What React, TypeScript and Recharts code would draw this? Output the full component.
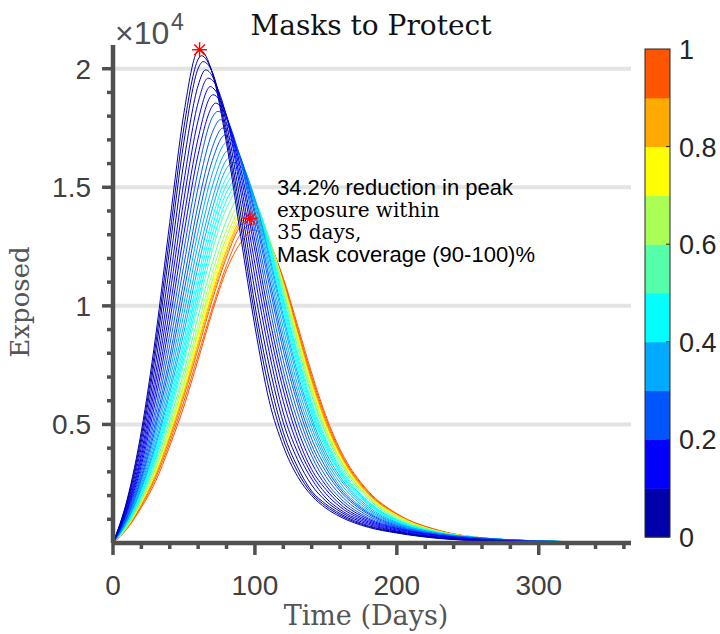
import React from "react";
import {
  CartesianGrid,
  ComposedChart,
  Line,
  ReferenceDot,
  XAxis,
  YAxis,
} from "recharts";

// sample days shared by every curve
const days = [0, 10, 20, 30, 40, 50, 60, 70, 80, 90, 100, 110, 120, 130, 140, 150, 160, 180, 200, 230, 260, 300, 365];

// mask coverage of each curve
const coverage = [
  0, 0.025, 0.05, 0.075, 0.1, 0.125, 0.15, 0.175, 0.2, 0.225, 0.25, 0.275, 0.3, 0.325, 0.35, 0.375, 0.4, 0.425, 0.45, 0.475, 0.5,
  0.55, 0.6, 0.65, 0.7, 0.75, 0.8, 0.85, 0.9, 0.95, 1,
];

// exposed population
const e000 = [0, 1840, 4720, 8700, 13520, 18140, 20780, 19820, 16850, 12920, 9130, 6010, 4080, 2810, 2000, 1470, 1110, 660, 420, 190, 85, 26, 4];
const e025 = [0, 1775, 4510, 8350, 12970, 17535, 20395, 19835, 17115, 13375, 9580, 6485, 4375, 3010, 2095, 1555, 1175, 695, 443, 203, 95, 32, 6];
const e050 = [0, 1710, 4300, 8000, 12420, 16930, 20010, 19850, 17380, 13830, 10030, 6960, 4670, 3210, 2190, 1640, 1240, 730, 465, 215, 105, 37, 8];
const e075 = [0, 1620, 4060, 7565, 11735, 16090, 19295, 19685, 17675, 14315, 10630, 7510, 5080, 3520, 2445, 1770, 1325, 785, 488, 235, 115, 40, 9];
const e100 = [0, 1530, 3820, 7130, 11050, 15250, 18580, 19520, 17970, 14800, 11230, 8060, 5490, 3830, 2700, 1900, 1410, 840, 510, 255, 125, 43, 10];
const e125 = [0, 1465, 3640, 6750, 10460, 14495, 17825, 19208, 17995, 15160, 11775, 8570, 5970, 4155, 2900, 2080, 1525, 893, 548, 280, 138, 51, 11];
const e150 = [0, 1400, 3460, 6370, 9870, 13740, 17070, 18895, 18020, 15520, 12320, 9080, 6450, 4480, 3100, 2260, 1640, 945, 585, 305, 150, 58, 12];
const e175 = [0, 1325, 3285, 6015, 9350, 13060, 16385, 18423, 17955, 15805, 12730, 9560, 6865, 4825, 3380, 2430, 1770, 1003, 618, 320, 155, 62, 13];
const e200 = [0, 1250, 3110, 5660, 8830, 12380, 15700, 17950, 17890, 16090, 13140, 10040, 7280, 5170, 3660, 2600, 1900, 1060, 650, 335, 160, 65, 14];
const e225 = [0, 1195, 2965, 5375, 8355, 11740, 14990, 17315, 17670, 16165, 13465, 10470, 7700, 5525, 3895, 2805, 2045, 1135, 675, 343, 175, 73, 17];
const e250 = [0, 1140, 2820, 5090, 7880, 11100, 14280, 16680, 17450, 16240, 13790, 10900, 8120, 5880, 4130, 3010, 2190, 1210, 700, 350, 190, 80, 19];
const e275 = [0, 1085, 2705, 4875, 7525, 10610, 13705, 16130, 17173, 16230, 13995, 11195, 8430, 6140, 4390, 3180, 2295, 1265, 740, 365, 198, 83, 20];
const e300 = [0, 1030, 2590, 4660, 7170, 10120, 13130, 15580, 16895, 16220, 14200, 11490, 8740, 6400, 4650, 3350, 2400, 1320, 780, 380, 205, 85, 20];
const e325 = [0, 995, 2485, 4450, 6860, 9680, 12605, 15045, 16528, 16130, 14350, 11745, 9055, 6680, 4870, 3500, 2545, 1390, 805, 390, 208, 85, 22];
const e350 = [0, 960, 2380, 4240, 6550, 9240, 12080, 14510, 16160, 16040, 14500, 12000, 9370, 6960, 5090, 3650, 2690, 1460, 830, 400, 210, 85, 23];
const e375 = [0, 920, 2300, 4085, 6315, 8895, 11665, 14095, 15795, 15875, 14495, 12160, 9590, 7170, 5265, 3815, 2800, 1535, 865, 408, 208, 84, 23];
const e400 = [0, 880, 2220, 3930, 6080, 8550, 11250, 13680, 15430, 15710, 14490, 12320, 9810, 7380, 5440, 3980, 2910, 1610, 900, 415, 205, 82, 23];
const e425 = [0, 860, 2150, 3820, 5910, 8300, 10930, 13345, 15110, 15545, 14480, 12430, 9965, 7560, 5570, 4085, 2980, 1650, 925, 418, 208, 86, 23];
const e450 = [0, 840, 2080, 3710, 5740, 8050, 10610, 13010, 14790, 15380, 14470, 12540, 10120, 7740, 5700, 4190, 3050, 1690, 950, 420, 210, 90, 22];
const e475 = [0, 815, 2025, 3595, 5565, 7820, 10300, 12670, 14455, 15190, 14450, 12630, 10265, 7905, 5850, 4300, 3145, 1725, 970, 430, 213, 90, 21];
const e500 = [0, 790, 1970, 3480, 5390, 7590, 9990, 12330, 14120, 15000, 14430, 12720, 10410, 8070, 6000, 4410, 3240, 1760, 990, 440, 215, 90, 20];
const e550 = [0, 750, 1900, 3340, 5160, 7230, 9560, 11820, 13610, 14680, 14350, 12830, 10600, 8290, 6220, 4590, 3370, 1850, 1030, 460, 215, 87, 18];
const e600 = [0, 720, 1820, 3190, 4960, 6980, 9200, 11400, 13210, 14390, 14200, 12850, 10740, 8480, 6360, 4710, 3480, 1910, 1080, 470, 210, 87, 16];
const e650 = [0, 710, 1770, 3110, 4800, 6750, 8930, 11090, 12900, 14130, 14080, 12810, 10830, 8610, 6500, 4790, 3540, 1950, 1130, 480, 215, 88, 17];
const e700 = [0, 690, 1730, 3030, 4700, 6610, 8730, 10870, 12680, 13940, 13960, 12790, 10870, 8690, 6610, 4870, 3610, 1970, 1140, 480, 215, 85, 15];
const e750 = [0, 680, 1690, 2960, 4630, 6490, 8580, 10680, 12480, 13790, 13870, 12780, 10920, 8770, 6700, 4960, 3660, 2010, 1160, 480, 220, 85, 13];
const e800 = [0, 680, 1670, 2930, 4540, 6390, 8450, 10530, 12340, 13640, 13800, 12760, 10960, 8830, 6760, 5010, 3710, 2030, 1170, 480, 220, 82, 12];
const e850 = [0, 660, 1650, 2880, 4480, 6280, 8310, 10380, 12180, 13520, 13710, 12730, 10980, 8890, 6820, 5070, 3750, 2070, 1190, 480, 220, 80, 10];
const e900 = [0, 660, 1630, 2850, 4410, 6200, 8200, 10250, 12050, 13390, 13640, 12750, 11050, 8950, 6900, 5130, 3790, 2090, 1200, 490, 220, 80, 9];
const e950 = [0, 620, 1570, 2740, 4250, 5980, 7920, 9910, 11710, 13050, 13420, 12680, 11100, 9050, 7020, 5250, 3860, 2140, 1210, 510, 215, 80, 6];
const e1000 = [0, 610, 1500, 2600, 4090, 5770, 7730, 9750, 11510, 12670, 13195, 12650, 11170, 9190, 7170, 5360, 3950, 2180, 1240, 530, 210, 66, 7];

const curves = [
  e000, e025, e050, e075, e100, e125, e150, e175, e200, e225, e250, e275, e300, e325, e350, e375, e400, e425, e450, e475, e500,
  e550, e600, e650, e700, e750, e800, e850, e900, e950, e1000,
];

// peak of each curve
const peakDays = [
  61, 62.25, 63.5, 65.25, 67, 68.75, 70.5, 72.25, 74, 75.75, 77.5, 79, 80.5, 82, 83.5, 84.75, 86, 87, 88, 89, 90,
  91.5, 92.8, 93.8, 94.5, 95.1, 95.6, 96.1, 96.6, 97.7, 99,
];
const peakValues = [
  20800, 20550, 20300, 19950, 19600, 19250, 18900, 18550, 18200, 17850, 17500, 17200, 16900, 16600, 16300, 16050, 15800, 15600, 15400, 15200, 15000,
  14700, 14450, 14250, 14100, 13980, 13880, 13780, 13690, 13450, 13200,
];

// red stars
const starDays = [61, 96.6];
const starValues = [20800, 13690];

const xTicks = [0, 20, 40, 60, 80, 100, 120, 140, 160, 180, 200, 220, 240, 260, 280, 300, 320, 340, 360];
const yTicks = [1000, 2000, 3000, 4000, 5000, 6000, 7000, 8000, 9000, 10000, 11000, 12000, 13000, 14000, 15000, 16000, 17000, 18000, 19000, 20000];
const gridValues = [5000, 10000, 15000, 20000];
const yLabels: Record<number, string> = { 5000: "0.5", 10000: "1", 15000: "1.5", 20000: "2" };

const jet = ["#0000AA", "#0000FF", "#0055FF", "#00AAFF", "#00FFFF", "#55FFAA", "#AAFF55", "#FFFF00", "#FFAA00", "#FF5500"];
const colorbarTicks = [0, 0.2, 0.4, 0.6, 0.8, 1];

const sans = "'Liberation Sans', Arial, Helvetica, sans-serif";
const serif = "'DejaVu Serif', serif";
const axisGray = "#505050";

const allDays = Array.from(new Set([...days, ...peakDays])).sort((a, b) => a - b);
const data = allDays.map((d) => {
  const row: any = { day: d };
  curves.forEach((vals, i) => {
    const k = days.indexOf(d);
    if (k >= 0) row[`c${i}`] = vals[k];
    if (peakDays[i] === d) row[`c${i}`] = peakValues[i];
  });
  return row;
});

const colorFor = (c: number) => jet[Math.min(9, Math.floor(c * 10 + 1e-9))];

// draw high coverage first so the blue curves end up on top
const drawOrder = curves.map((_, i) => i).reverse();

const XTick = ({ x, y, payload }: any) => {
  const major = payload.value % 100 === 0;
  return (
    <g>
      <line x1={x} y1={y} x2={x} y2={y + (major ? 12 : 6)} stroke={axisGray} strokeWidth={3.5} />
      {major && (
        <text x={x} y={y + 52} textAnchor="middle" fontSize={28} fill="#404040" fontFamily={sans}>
          {payload.value}
        </text>
      )}
    </g>
  );
};

const YTick = ({ x, y, payload }: any) => {
  const major = payload.value % 5000 === 0;
  return (
    <g>
      <line x1={x - (major ? 11 : 6)} y1={y} x2={x} y2={y} stroke={axisGray} strokeWidth={3.5} />
      {major && (
        <text x={x - 22} y={y + 10} textAnchor="end" fontSize={28} fill="#404040" fontFamily={sans}>
          {yLabels[payload.value]}
        </text>
      )}
    </g>
  );
};

const Asterisk = ({ cx, cy }: any) => {
  const r = 7.5;
  const d = r * 0.71;
  return (
    <g stroke="#FF0000" strokeWidth={1.4}>
      <line x1={cx - r} y1={cy} x2={cx + r} y2={cy} />
      <line x1={cx} y1={cy - r} x2={cx} y2={cy + r} />
      <line x1={cx - d} y1={cy - d} x2={cx + d} y2={cy + d} />
      <line x1={cx - d} y1={cy + d} x2={cx + d} y2={cy - d} />
    </g>
  );
};

const Overlay = () => {
  const cbX = 645;
  const cbTop = 49;
  const cbH = 488;
  const seg = cbH / jet.length;
  return (
    <svg width={720} height={634} style={{ position: "absolute", left: 0, top: 0, pointerEvents: "none" }}>
      <text x={371} y={35} textAnchor="middle" fontSize={28} fontFamily={serif} fill="#111">
        Masks to Protect
      </text>
      <text x={115} y={44} fontSize={32} fontFamily={sans} fill="#505050">
        ×10
      </text>
      <text x={171} y={30} fontSize={23} fontFamily={sans} fill="#505050">
        4
      </text>
      <text x={29} y={302} transform="rotate(-90, 29, 302)" textAnchor="middle" fontSize={26} fontFamily={serif} fill="#555">
        Exposed
      </text>
      <text x={366} y={625} textAnchor="middle" fontSize={27} fontFamily={serif} fill="#555">
        Time (Days)
      </text>

      <text x={277} y={195} fontSize={22} fontFamily={sans} fill="#000">
        34.2% reduction in peak
      </text>
      <text x={277} y={217} fontSize={20} fontFamily={serif} fill="#000">
        exposure within
      </text>
      <text x={277} y={239} fontSize={20} fontFamily={serif} fill="#000">
        35 days,
      </text>
      <text x={277} y={262} fontSize={22} fontFamily={sans} fill="#000">
        Mask coverage (90-100)%
      </text>

      {jet.map((c, i) => (
        <rect key={c} x={cbX} y={cbTop + cbH - (i + 1) * seg} width={25} height={seg + 0.5} fill={c} />
      ))}
      <rect x={cbX} y={cbTop} width={25} height={cbH} fill="none" stroke="#262626" strokeWidth={1} />
      {colorbarTicks.map((t) => (
        <g key={t}>
          {t > 0 && t < 1 && (
            <line x1={cbX + 21} x2={cbX + 25} y1={cbTop + cbH - t * cbH} y2={cbTop + cbH - t * cbH} stroke="#262626" />
          )}
          <text x={679} y={cbTop + cbH - t * cbH + 10} fontSize={27} fontFamily={sans} fill="#262626">
            {t}
          </text>
        </g>
      ))}
    </svg>
  );
};

export default function App() {
  return (
    <div style={{ position: "absolute", left: 0, top: 0, width: 720, height: 634, background: "#fff" }}>
      <ComposedChart width={720} height={634} data={data} margin={{ top: 45, right: 89, bottom: 0, left: 0 }}>
        <CartesianGrid vertical={false} horizontalValues={gridValues} stroke="#E3E3E3" strokeWidth={4} />
        <XAxis
          dataKey="day"
          type="number"
          domain={[0, 365]}
          ticks={xTicks}
          interval={0}
          height={91}
          tickSize={0}
          tickMargin={0}
          tickLine={false}
          axisLine={{ stroke: axisGray, strokeWidth: 4.5 }}
          tick={<XTick />}
        />
        <YAxis
          type="number"
          domain={[0, 21000]}
          ticks={yTicks}
          interval={0}
          width={113}
          tickSize={0}
          tickMargin={0}
          tickLine={false}
          axisLine={{ stroke: axisGray, strokeWidth: 4.5 }}
          tick={<YTick />}
        />
        {drawOrder.map((i) => (
          <Line
            key={i}
            type="monotone"
            dataKey={`c${i}`}
            stroke={colorFor(coverage[i])}
            strokeWidth={1}
            dot={false}
            connectNulls
            isAnimationActive={false}
          />
        ))}
        {starDays.map((d, i) => (
          <ReferenceDot key={d} x={d} y={starValues[i]} r={7} ifOverflow="visible" shape={<Asterisk />} />
        ))}
      </ComposedChart>
      <Overlay />
    </div>
  );
}
